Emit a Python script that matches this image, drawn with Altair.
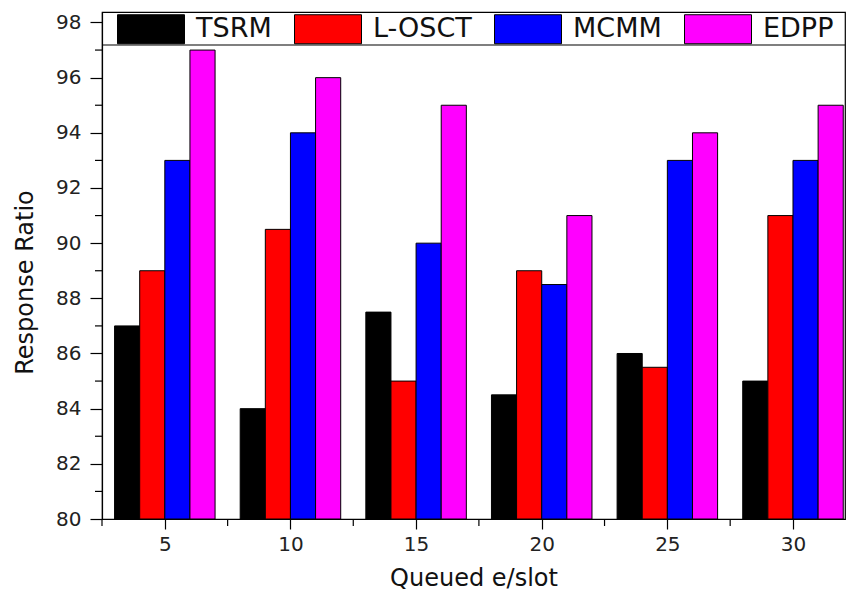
import altair as alt
import pandas as pd

groups = [5, 10, 15, 20, 25, 30]
series = ["TSRM", "L-OSCT", "MCMM", "EDPP"]
colors = ["#000000", "#ff0000", "#0000ff", "#ff00ff"]
tsrm = [87, 84, 87.5, 84.5, 86, 85]
losct = [89, 90.5, 85, 89, 85.5, 91]
mcmm = [93, 94, 90, 88.5, 93, 93]
edpp = [97, 96, 95, 91, 94, 95]
y_ticks = [80, 82, 84, 86, 88, 90, 92, 94, 96, 98]
y_minor = [81, 83, 85, 87, 89, 91, 93, 95, 97]
x_minor = [2.5, 7.5, 12.5, 17.5, 22.5, 27.5]

rows = []
for si, (name, vals) in enumerate(zip(series, [tsrm, losct, mcmm, edpp])):
    for g, v in zip(groups, vals):
        rows.append({"q": g, "series": name, "value": v, "slot": si - 2})
df = pd.DataFrame(rows)

W, H = 743, 507
FONT = "DejaVu Sans"
xscale = alt.Scale(domain=[2.5, 32.07], nice=False, zero=False)
yscale = alt.Scale(domain=[80, 98.38], nice=False, zero=False)

xaxis = alt.Axis(values=groups, title="Queued e/slot", grid=False,
                 labelFontSize=20, tickSize=10, tickColor="black",
                 domainColor="black", domainWidth=1.2, tickWidth=1.2,
                 labelPadding=5, labelColor="#222",
                 titleFontSize=24, titleFontWeight="normal",
                 titleY=66, titleBaseline="alphabetic", titleColor="#111")
yaxis = alt.Axis(values=y_ticks, title="Response Ratio", grid=False,
                 labelFontSize=20, tickSize=12, tickColor="black",
                 domainColor="black", domainWidth=1.2, tickWidth=1.2,
                 labelPadding=9, labelColor="#222",
                 titleFontSize=24, titleFontWeight="normal",
                 titlePadding=18, titleY=270, titleColor="#111")

bars = alt.Chart(df).transform_calculate(
    x0="datum.q + datum.slot", x1="datum.q + datum.slot + 1"
).mark_bar(stroke="black", strokeWidth=1).encode(
    x=alt.X("x0:Q", scale=xscale, axis=xaxis, title="Queued e/slot"),
    x2="x1:Q",
    y=alt.Y("value:Q", scale=yscale, axis=yaxis, title="Response Ratio"),
    y2=alt.datum(80),
    color=alt.Color("series:N", scale=alt.Scale(domain=series, range=colors),
                    legend=alt.Legend(title=None, orient="none", legendX=15, legendY=-17,
                                      direction="horizontal", columns=4,
                                      symbolType="M-1,-0.433L1,-0.433L1,0.433L-1,0.433Z",
                                      symbolSize=4489, symbolStrokeColor="black",
                                      symbolStrokeWidth=1, symbolOpacity=1,
                                      labelFontSize=27, labelFont=FONT, labelColor="#111",
                                      labelOffset=11, columnPadding=20, padding=0)),
)

legend_line = alt.Chart(pd.DataFrame({"k": [0]})).mark_rule(
    color="black", strokeWidth=1.2
).encode(x=alt.value(0), x2=alt.value(W), y=alt.value(33))

minor_y = alt.Chart(pd.DataFrame({"value": y_minor})).mark_rule(
    color="black", strokeWidth=1.2
).encode(y=alt.Y("value:Q", scale=yscale, title="Response Ratio"),
         x=alt.value(-7), x2=alt.value(0))

minor_x = alt.Chart(pd.DataFrame({"x0": x_minor})).mark_rule(
    color="black", strokeWidth=1.2
).encode(x=alt.X("x0:Q", scale=xscale, title="Queued e/slot"),
         y=alt.value(H), y2=alt.value(H + 7))

chart = alt.layer(bars, legend_line, minor_y, minor_x).properties(
    width=W, height=H, autosize="none",
    padding={"left": 102, "top": 12, "right": 3, "bottom": 73},
    background="white",
).configure(font=FONT).configure_view(stroke="black", strokeWidth=1.2)

chart.save("out.html", embed_options={"renderer": "svg", "actions": False})
